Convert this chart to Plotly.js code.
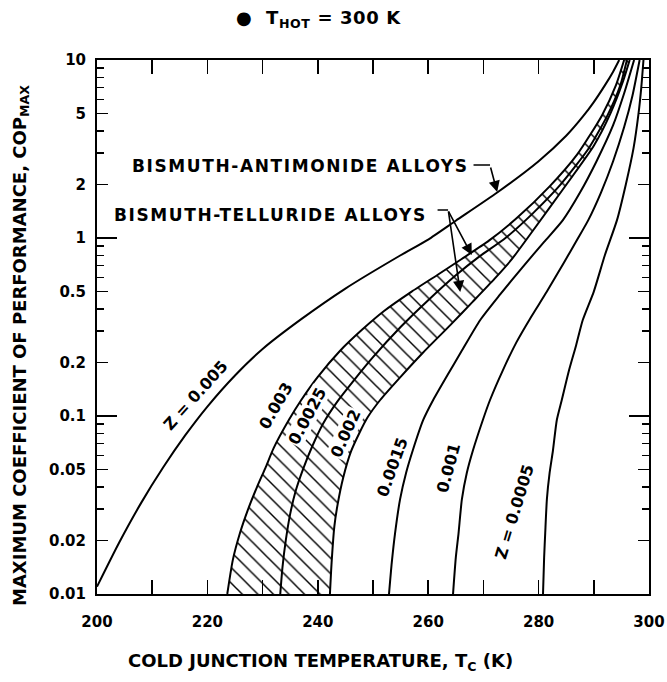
<!DOCTYPE html>
<html><head><meta charset="utf-8">
<script src="https://cdn.plot.ly/plotly-3.0.1.min.js"></script>
<style>html,body{margin:0;padding:0;background:#fff}#chart{width:667px;height:682px}</style>
</head><body><div id="chart"></div>
<script>
// Curves: cold junction temperature Tc (K) vs maximum COP
const z005_T   = [200, 204, 208, 212, 216, 220, 225, 230, 237, 245, 255, 260, 265, 272.5, 280, 285, 288, 290, 292, 293.5, 294.6];
const z005_COP = [0.011, 0.0194, 0.0325, 0.0515, 0.078, 0.113, 0.169, 0.238, 0.35, 0.52, 0.8, 0.98, 1.25, 1.8, 2.7, 3.75, 4.8, 5.8, 7.2, 8.6, 10];

const z003_T   = [223.6, 224.6, 225.9, 227.3, 229, 230.5, 232, 234.8, 237, 240, 244, 248, 252, 257, 262, 266, 271, 276, 282, 287, 291.5, 294, 295.5];
const z003_COP = [0.01, 0.0155, 0.022, 0.0295, 0.040, 0.051, 0.066, 0.0955, 0.123, 0.166, 0.232, 0.305, 0.389, 0.50, 0.63, 0.76, 0.966, 1.29, 1.95, 2.95, 4.9, 7.2, 10];

const z0025_T   = [233.2, 233.6, 234.2, 235, 236, 237.3, 239, 241, 243.5, 246.5, 250, 255, 260, 265, 269, 274, 279, 284, 289, 292.5, 294.8, 296];
const z0025_COP = [0.01, 0.0141, 0.020, 0.0282, 0.038, 0.050, 0.0676, 0.091, 0.120, 0.158, 0.214, 0.316, 0.447, 0.617, 0.776, 1.0, 1.38, 2.0, 3.16, 4.9, 7.2, 10];

const z002_T   = [242.2, 242.5, 243, 243.6, 244.6, 246, 247.6, 249, 251.3, 255, 259, 264, 268, 272, 275, 278, 282, 285.5, 290, 293, 295.3, 296.5];
const z002_COP = [0.01, 0.015, 0.024, 0.032, 0.045, 0.063, 0.081, 0.098, 0.123, 0.166, 0.226, 0.324, 0.436, 0.589, 0.75, 1.0, 1.48, 2.09, 3.3, 5.0, 7.6, 10];

const z0015_T   = [252.9, 253.4, 254, 254.9, 256, 257.2, 259.1, 260.9, 263.5, 266, 269.4, 273, 277, 281, 284.4, 287.5, 290.5, 293.5, 295.5, 297.3];
const z0015_COP = [0.01, 0.015, 0.022, 0.034, 0.048, 0.064, 0.095, 0.123, 0.17, 0.23, 0.345, 0.48, 0.68, 0.95, 1.26, 1.8, 2.7, 4.3, 6.5, 10];

const z001_T   = [264.5, 265, 265.5, 266.1, 267, 268.1, 269.9, 271.2, 273.5, 276, 278.4, 281.5, 284.5, 287, 289, 291.3, 293.5, 295.5, 297, 298.3];
const z001_COP = [0.01, 0.016, 0.022, 0.034, 0.048, 0.064, 0.095, 0.123, 0.18, 0.26, 0.35, 0.5, 0.72, 0.98, 1.26, 1.8, 2.7, 4.2, 6.3, 10];

const z0005_T   = [280.8, 281, 281.2, 281.5, 282, 282.6, 283.3, 284.2, 285.5, 286.8, 288, 290, 292, 294.2, 295.8, 297.2, 298.1, 298.6, 299.0];
const z0005_COP = [0.01, 0.016, 0.022, 0.034, 0.048, 0.064, 0.095, 0.123, 0.18, 0.25, 0.346, 0.5, 0.8, 1.26, 2.0, 3.2, 5.0, 7.0, 10];

// Axis ticks
const yTickVals = [0.01, 0.02, 0.05, 0.1, 0.2, 0.5, 1, 2, 5, 10];
const yTickText = ['0.01', '0.02', '0.05', '0.1', '0.2', '0.5', '1', '2', '5', '10'];
const yMinorVals = [0.03, 0.04, 0.06, 0.07, 0.08, 0.09, 0.3, 0.4, 0.6, 0.7, 0.8, 0.9, 3, 4, 6, 7, 8, 9];
const yDecadeVals = [0.1, 1];
const xTickVals = [200, 220, 240, 260, 280, 300];

const FONT = 'DejaVu Sans, Liberation Sans, Arial, sans-serif';
const line = {color: '#000', width: 2, shape: 'spline', smoothing: 0.6};

const traces = [
  {x: z003_T, y: z003_COP, mode: 'lines', line: line, hoverinfo: 'skip'},
  {x: z002_T, y: z002_COP, mode: 'lines', line: line, hoverinfo: 'skip', fill: 'tonexty',
   fillcolor: 'rgba(255,255,255,0)',
   fillpattern: {shape: '\\', size: 11, solidity: 0.13, fgcolor: '#000', bgcolor: 'rgba(255,255,255,0)', fillmode: 'replace'}},
  {x: z0025_T, y: z0025_COP, mode: 'lines', line: line, hoverinfo: 'skip'},
  {x: z005_T, y: z005_COP, mode: 'lines', line: line, hoverinfo: 'skip'},
  {x: z0015_T, y: z0015_COP, mode: 'lines', line: line, hoverinfo: 'skip'},
  {x: z001_T, y: z001_COP, mode: 'lines', line: line, hoverinfo: 'skip'},
  {x: z0005_T, y: z0005_COP, mode: 'lines', line: line, hoverinfo: 'skip'},
  // invisible trace to activate the decade-tick overlay axis
  {x: [200], y: [1], yaxis: 'y2', mode: 'markers', marker: {opacity: 0}, hoverinfo: 'skip'}
];

function lbl(text, x, y, angle, white) {
  return {text: text, x: x, y: Math.log10(y), xref: 'x', yref: 'y', showarrow: false,
    textangle: angle, font: {family: FONT, size: 16, color: '#000', weight: 'bold'},
    bgcolor: white ? '#fff' : 'rgba(0,0,0,0)', borderpad: 0};
}
function arrow(x, ly, ax, ay, head) {
  return {text: '', x: x, y: ly, xref: 'x', yref: 'y', showarrow: true, ax: ax, ay: ay,
    arrowhead: head, arrowsize: 1.4, arrowwidth: 1.6, arrowcolor: '#000'};
}
const big = {family: FONT, size: 17, color: '#000', weight: 'bold'};
const ttl = {family: FONT, size: 18, color: '#000', weight: 'bold'};

const annotations = [
  lbl('Z = 0.005', 217.8, 0.131, -48, false),
  lbl('0.003', 232.4, 0.115, -60, true),
  lbl('0.0025', 238.0, 0.100, -62, true),
  lbl('0.002', 245.0, 0.080, -66, true),
  lbl('0.0015', 253.4, 0.0517, -70, false),
  lbl('0.001', 263.6, 0.051, -75, false),
  lbl('Z = 0.0005', 275.7, 0.0289, -73, false),
  {text: '<span style="letter-spacing:1.6px">BISMUTH-ANTIMONIDE ALLOYS</span>', x: 236.8, y: 0.404, xref: 'x', yref: 'y',
   showarrow: false, font: big, yanchor: 'middle'},
  {text: '<span style="letter-spacing:1.6px">BISMUTH-TELLURIDE ALLOYS</span>', x: 231.5, y: 0.129, xref: 'x', yref: 'y',
   showarrow: false, font: big, yanchor: 'middle'},
  arrow(271.2, 0.410, -18, 0, 0),
  arrow(272.5, 0.258, -7, -26, 2),
  arrow(263.6, 0.157, -12, 0, 0),
  arrow(267.9, -0.096, -24, -45, 2),
  arrow(265.8, -0.303, -12, -82, 2),
  {text: '<span style="letter-spacing:0.6px">●  T<sub>HOT</sub> = 300 K</span>', x: 0.402, y: 1.077, xref: 'paper', yref: 'paper',
   xanchor: 'center', yanchor: 'middle', showarrow: false, font: ttl},
  {text: 'COLD JUNCTION TEMPERATURE, T<sub>C</sub> (K)', x: 0.405, y: -0.127, xref: 'paper', yref: 'paper',
   xanchor: 'center', yanchor: 'middle', showarrow: false, font: ttl},
  {text: 'MAXIMUM COEFFICIENT OF PERFORMANCE, COP<sub>MAX</sub>', x: -0.138, y: 0.466, xref: 'paper', yref: 'paper',
   xanchor: 'center', yanchor: 'middle', textangle: -90, showarrow: false, font: ttl}
];

const tickFont = {family: FONT, size: 15, color: '#000', weight: 'bold'};

const layout = {
  width: 667, height: 682,
  margin: {l: 97, r: 18, t: 60, b: 88},
  paper_bgcolor: '#fff', plot_bgcolor: '#fff',
  showlegend: false,
  xaxis: {range: [200, 300], tickvals: xTickVals, ticktext: xTickVals.map(String),
    ticks: 'inside', ticklen: 14, tickwidth: 1.5, tickcolor: '#000',
    minor: {dtick: 10, tick0: 200, ticks: 'inside', ticklen: 14, tickwidth: 1.5, tickcolor: '#000'},
    showline: true, linewidth: 2, linecolor: '#000', mirror: 'ticks', showgrid: false, zeroline: false,
    tickfont: tickFont, ticklabelstandoff: 13},
  yaxis: {type: 'log', range: [-2, 1], tickvals: yTickVals, ticktext: yTickText,
    ticks: 'inside', ticklen: 11, tickwidth: 1.5, tickcolor: '#000',
    minor: {tickvals: yMinorVals, ticks: 'inside', ticklen: 7, tickwidth: 1.5, tickcolor: '#000'},
    showline: true, linewidth: 2, linecolor: '#000', mirror: 'ticks', showgrid: false, zeroline: false,
    tickfont: tickFont, ticklabelstandoff: 6},
  yaxis2: {type: 'log', range: [-2, 1], overlaying: 'y', side: 'left', tickvals: yDecadeVals,
    ticks: 'inside', ticklen: 20, tickwidth: 1.5, tickcolor: '#000', showticklabels: false,
    showline: false, mirror: 'ticks', showgrid: false, zeroline: false},
  annotations: annotations
};

Plotly.newPlot('chart', traces, layout, {staticPlot: true, displayModeBar: false});
</script></body></html>
